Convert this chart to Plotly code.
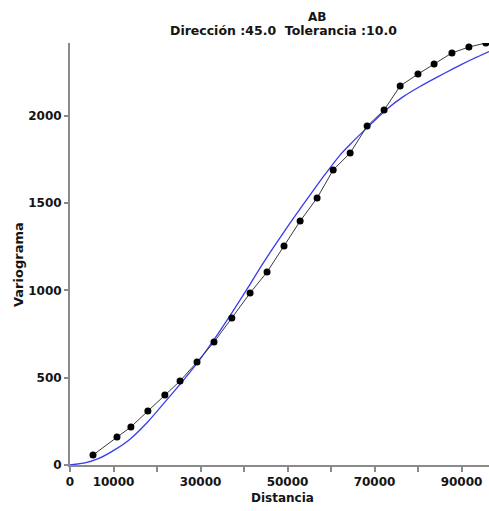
import plotly.graph_objects as go

# Experimental variogram points
exp_dist = [5290, 10800, 14000, 17900, 21800, 25300, 29200, 33100, 37200, 41400,
            45300, 49200, 52900, 56800, 60500, 64400, 68300, 72200, 75900, 80000,
            83700, 87800, 91700, 95600]
exp_gamma = [57, 160, 218, 309, 401, 481, 590, 704, 842, 985,
             1105, 1254, 1397, 1529, 1690, 1787, 1941, 2033, 2171, 2239,
             2297, 2360, 2394, 2417]

# Fitted model curve
mod_dist = [0, 3450, 6500, 10340, 13790, 17800, 21450, 25290, 29130, 32940, 37170,
            41380, 44000, 46740, 50570, 54410, 58230, 62070, 64370, 68970, 72800,
            76620, 80460, 84300, 88120, 91950, 96320]
mod_gamma = [0, 12, 36, 88, 148, 245, 350, 462, 580, 712, 870,
             1035, 1140, 1245, 1385, 1520, 1651, 1775, 1836, 1948, 2038,
             2110, 2168, 2220, 2270, 2318, 2368]

x_tickvals = [0, 10000, 20000, 30000, 40000, 50000, 60000, 70000, 80000, 90000]
x_ticktext = ["0", "10000", "", "30000", "", "50000", "", "70000", "", "90000"]
y_tickvals = [0, 500, 1000, 1500, 2000]
y_ticktext = ["0", "500", "1000", "1500", "2000"]

title_main = "AB"
title_sub = "Dirección :45.0  Tolerancia :10.0"
x_title = "Distancia"
y_title = "Variograma"

FONT = "DejaVu Sans"
TXT = "#141414"

fig = go.Figure()
fig.add_trace(go.Scatter(x=mod_dist, y=mod_gamma, mode="lines",
                         line=dict(color="#3a3af0", width=1.3, shape="spline", smoothing=0.5),
                         hoverinfo="skip", showlegend=False))
fig.add_trace(go.Scatter(x=exp_dist, y=exp_gamma, mode="lines+markers",
                         line=dict(color="#3a3a3a", width=1),
                         marker=dict(color="black", size=7),
                         showlegend=False))

fig.update_layout(
    width=489, height=511,
    margin=dict(l=70, r=0, t=43, b=46),
    paper_bgcolor="white", plot_bgcolor="white",
    font=dict(family=FONT, color=TXT, size=12),
    xaxis=dict(range=[0, 96320], tickvals=x_tickvals, ticktext=x_ticktext,
               automargin=False,
               showgrid=False, zeroline=False, showline=True, linecolor="#8a8a8a",
               linewidth=2, ticks="outside", ticklen=5, tickcolor="#8a8a8a",
               tickwidth=1.5,
               tickfont=dict(family=FONT, size=12, color=TXT, weight="bold")),
    yaxis=dict(range=[0, 2417], tickvals=y_tickvals, ticktext=y_ticktext,
               automargin=False,
               showgrid=False, zeroline=False, showline=True, linecolor="#8a8a8a",
               linewidth=2, ticks="outside", ticklen=4, tickcolor="#8a8a8a",
               tickwidth=1.5,
               tickfont=dict(family=FONT, size=12, color=TXT, weight="bold")),
    annotations=[
        dict(text=title_main, x=317, y=511 - 17, xref="paper", yref="paper",
             showarrow=False, font=dict(size=12, weight="bold", color=TXT)),
        dict(text=title_sub, x=283, y=511 - 30, xref="paper", yref="paper",
             showarrow=False, font=dict(size=12.5, weight="bold", color=TXT)),
        dict(text=x_title, x=282, y=511 - 498, xref="paper", yref="paper",
             showarrow=False, font=dict(size=12, weight="bold", color=TXT)),
        dict(text=y_title, x=18, y=511 - 265, xref="paper", yref="paper",
             showarrow=False, textangle=-90,
             font=dict(size=13, weight="bold", color=TXT)),
    ],
)

# convert pixel annotation positions into paper coordinates
pw = 489 - 70 - 0
ph = 511 - 43 - 46
for a in fig.layout.annotations:
    a.x = (a.x - 70) / pw
    a.y = (a.y - 46) / ph
    a.xanchor = "center"
    a.yanchor = "middle"

fig.write_html("out.html", config={"displayModeBar": False},
               post_script="document.body.style.margin='0';document.body.style.overflow='hidden';")
